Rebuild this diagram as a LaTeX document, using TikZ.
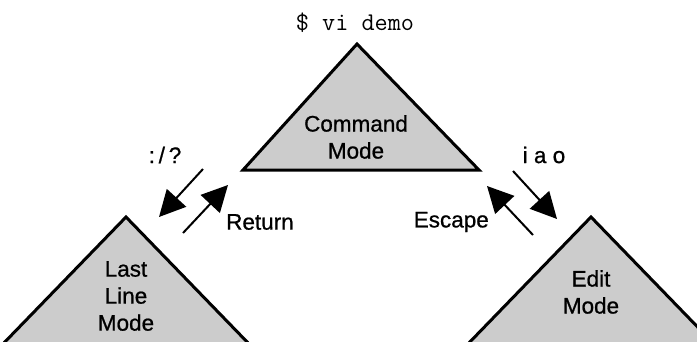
\documentclass[tikz,border=0pt]{standalone}
\usepackage{fontspec}
\setmainfont{Liberation Sans}
\newfontfamily\scanfont{Liberation Sans}[FakeBold=0.8]
\usetikzlibrary{arrows.meta}

\begin{document}
\begin{tikzpicture}[x=1pt,y=-1pt,line join=miter]
		\tikzstyle{mode}=[draw=black,line width=3pt,fill=black!20]
		\tikzstyle{label}=[inner sep=0pt,align=center,font=\scanfont\fontsize{22.5}{27}\selectfont]
		\tikzstyle{keys}=[inner sep=0pt,font=\scanfont\fontsize{22.5}{27}\selectfont]
		\tikzstyle{move}=[line width=2pt,-{Triangle[length=26pt,width=26pt]}]
		
		\useasboundingbox (0,0) rectangle (697,341);
		\clip (0,0) rectangle (697,341);
		
		% Draw the three modes
		\draw[mode] (357,44) -- (479,170) -- (243,170) -- cycle;
		\draw[mode] (126,217) -- (252,347) -- (0,347) -- cycle;
		\draw[mode] (591,217) -- (717,347) -- (465,347) -- cycle;
		
		\node[label] (cmd) at (356,137) {Command\\Mode};
		\node[label] (last) at (126,296) {Last\\Line\\Mode};
		\node[label] (edit) at (591,292) {Edit\\Mode};
		\node[keys,font=\ttfamily\fontsize{25.5}{27}\selectfont] (start) at (355,23) {\$ vi demo};
		
		% Ends of the arrows
		\coordinate (L-1) at (203,169);
		\coordinate (L-2) at (159,217);
		\coordinate (R-1) at (183,233);
		\coordinate (R-2) at (228,185);
		\coordinate (E-1) at (513,171);
		\coordinate (E-2) at (557,219);
		\coordinate (X-1) at (533,235);
		\coordinate (X-2) at (487,186);
		
		% Draw the arrows between the modes
		\draw[move] (L-1) -- (L-2);
		\draw[move] (R-1) -- (R-2);
		\draw[move] (E-1) -- (E-2);
		\draw[move] (X-1) -- (X-2);
		
		% Annotate the arrows
		\node[keys] (colon) at (165,155) {:\,/\,?};
		\node[keys] (iao) at (544,155) {i a o};
		\node[keys,anchor=west] (ret) at (226,222) {Return};
		\node[keys,anchor=east] (esc) at (489,222) {Escape};
	\end{tikzpicture}
\end{document}
